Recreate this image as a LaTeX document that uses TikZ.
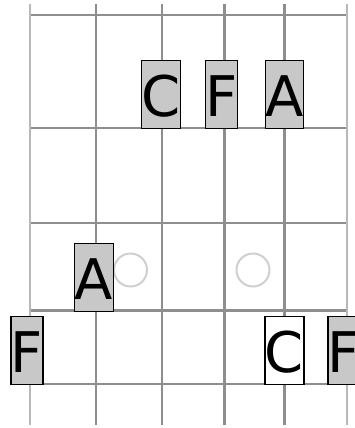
\documentclass[tikz,border=0pt]{standalone}
\usepackage{fontspec}
\setmainfont{DejaVu Sans}
\definecolor{fretgray}{HTML}{8E8E8E}
\definecolor{outergray}{HTML}{B8B8B8}
\definecolor{notefill}{HTML}{C8C8C8}
\definecolor{ringgray}{HTML}{CFCFCF}
\tikzset{
  fretline/.style={draw=fretgray,line width=2.6bp},
  innerstring/.style={draw=fretgray,line width=2.6bp},
  outerstring/.style={draw=outergray,line width=2.6bp},
  note/.style={draw=black,line width=1.3bp,fill=notefill,inner sep=0pt,
    text height=56bp,text depth=12bp,anchor=south,
    font=\fontsize{56bp}{60bp}\selectfont},
  opennote/.style={note,fill=white},
  ring/.style={draw=ringgray,line width=2bp}
}
\begin{document}
\begin{tikzpicture}[x=1bp,y=-1bp]
\useasboundingbox (0,0) rectangle (355,428);
\clip (0,0) rectangle (355,428);
% frets
\foreach \y in {15,128,223,310.5,384}{
  \draw[fretline] (30,\y) -- (347,\y);
}
% strings
\draw[outerstring] (30,3.5) -- (30,425);
\foreach \x in {96,162,224.5,284.5}{
  \draw[innerstring] (\x,3.5) -- (\x,425);
}
\draw[outerstring] (347,3.5) -- (347,425);
% markers
\draw[ring] (130.5,270) circle (16.5);
\draw[ring] (253,270) circle (16.5);
% notes
\node[note] (c1) at (161,129) {C};
\node[note] (f1) at (221.5,129) {F};
\node[note] (a1) at (284.5,129) {A};
\node[note] (a2) at (94,312) {A};
\node[note] (f2) at (27,385) {F};
\node[opennote] (c2) at (284.5,385) {C};
\node[note] (f3) at (344,385) {F};
\end{tikzpicture}
\end{document}
